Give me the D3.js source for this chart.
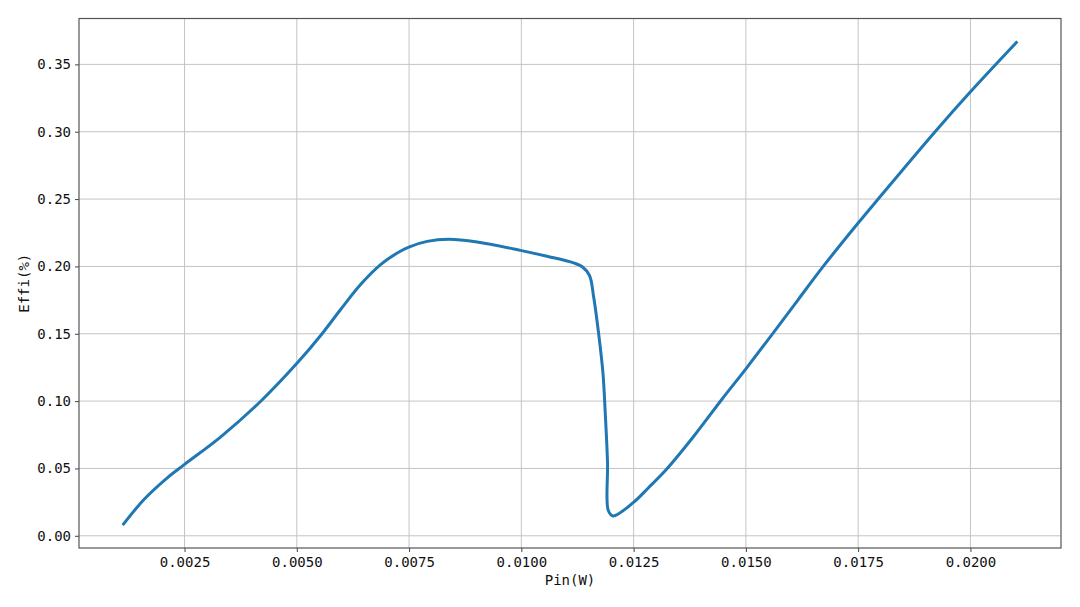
<!DOCTYPE html>
<html>
<head>
<meta charset="utf-8">
<script src="https://cdn.jsdelivr.net/npm/d3@7"></script>
<style>
  body { margin: 0; background: #fff; }
  text { font-family: "DejaVu Sans Mono", "Liberation Mono", monospace; }
</style>
</head>
<body>
<div id="chart"></div>
<script>
// Pin (W) vs Effi
var pinValues = [0.001144, 0.001602, 0.002122, 0.002500, 0.003307, 0.004197, 0.005013, 0.005531,
  0.005976, 0.006420, 0.006865, 0.007236, 0.007494, 0.007903, 0.008384, 0.009015,
  0.009978, 0.010572, 0.011163, 0.011357, 0.011519, 0.011608, 0.011719, 0.011817,
  0.011868, 0.011919, 0.011935, 0.012039, 0.012497, 0.012831, 0.013202, 0.013831, 0.014463,
  0.015018, 0.015610, 0.016166, 0.016722, 0.017500, 0.017983, 0.019213, 0.020006, 0.021023];
var effiValues = [0.0088, 0.0271, 0.0432, 0.0530, 0.0735, 0.0999, 0.1284, 0.1487,
  0.1680, 0.1865, 0.2013, 0.2100, 0.2144, 0.2186, 0.2201, 0.2181,
  0.2119, 0.2075, 0.2026, 0.1998, 0.1932, 0.1778, 0.1507, 0.1210,
  0.0914, 0.0543, 0.0189, 0.0147, 0.0248, 0.0357, 0.0482, 0.0735, 0.1012,
  0.1247, 0.1507, 0.1754, 0.2000, 0.2322, 0.2515, 0.3000, 0.3298, 0.3662];
var xTicks = [0.0025, 0.0050, 0.0075, 0.0100, 0.0125, 0.0150, 0.0175, 0.0200];
var yTicks = [0.00, 0.05, 0.10, 0.15, 0.20, 0.25, 0.30, 0.35];

var width = 1080, height = 607;
var margin = {top: 18.5, right: 19, bottom: 59, left: 79};
var plotW = width - margin.left - margin.right;
var plotH = height - margin.top - margin.bottom;

var svg = d3.select("#chart").append("svg")
  .attr("width", width).attr("height", height);

var g = svg.append("g")
  .attr("transform", "translate(" + margin.left + "," + margin.top + ")");

// matplotlib style 5% margins around the data
var xmin = d3.min(pinValues), xmax = d3.max(pinValues);
var ymin = d3.min(effiValues), ymax = d3.max(effiValues);
var xpad = (xmax - xmin) * 0.05, ypad = (ymax - ymin) * 0.05;

var x = d3.scaleLinear().domain([xmin - xpad, xmax + xpad]).range([0, plotW]);
var y = d3.scaleLinear().domain([ymin - ypad, ymax + ypad]).range([plotH, 0]);

// grid
g.append("g").selectAll("line").data(xTicks).enter().append("line")
  .attr("x1", function(d) { return x(d); }).attr("x2", function(d) { return x(d); })
  .attr("y1", 0).attr("y2", plotH)
  .attr("stroke", "#c4c4c4").attr("stroke-width", 1);
g.append("g").selectAll("line").data(yTicks).enter().append("line")
  .attr("y1", function(d) { return y(d); }).attr("y2", function(d) { return y(d); })
  .attr("x1", 0).attr("x2", plotW)
  .attr("stroke", "#c4c4c4").attr("stroke-width", 1);

// axes
var xAxis = g.append("g").attr("transform", "translate(0," + plotH + ")")
  .call(d3.axisBottom(x).tickValues(xTicks).tickFormat(d3.format(".4f")).tickSize(4).tickPadding(5));
var yAxis = g.append("g")
  .call(d3.axisLeft(y).tickValues(yTicks).tickFormat(d3.format(".2f")).tickSize(4).tickPadding(4));
[xAxis, yAxis].forEach(function(a) {
  a.select(".domain").remove();
  a.selectAll("line").attr("stroke", "#444");
  a.selectAll("text").attr("font-size", "14px").attr("fill", "#111")
    .style("font-family", '"DejaVu Sans Mono", monospace');
});

// frame
g.append("rect").attr("x", 0).attr("y", 0).attr("width", plotW).attr("height", plotH)
  .attr("fill", "none").attr("stroke", "#555").attr("stroke-width", 1.2);

// curve
var line = d3.line()
  .x(function(d, i) { return x(pinValues[i]); })
  .y(function(d, i) { return y(effiValues[i]); })
  .curve(d3.curveCatmullRom.alpha(0.5));

g.append("path").datum(effiValues)
  .attr("d", line)
  .attr("fill", "none")
  .attr("stroke", "#1f77b4")
  .attr("stroke-width", 3)
  .attr("stroke-linejoin", "round")
  .attr("stroke-linecap", "square");

// labels
svg.append("text").attr("x", margin.left + plotW / 2).attr("y", 585)
  .attr("text-anchor", "middle").attr("font-size", "14px").attr("fill", "#111")
  .text("Pin(W)");
svg.append("text")
  .attr("transform", "translate(29," + (margin.top + plotH / 2) + ") rotate(-90)")
  .attr("text-anchor", "middle").attr("font-size", "14px").attr("fill", "#111")
  .text("Effi(%)");
</script>
</body>
</html>
